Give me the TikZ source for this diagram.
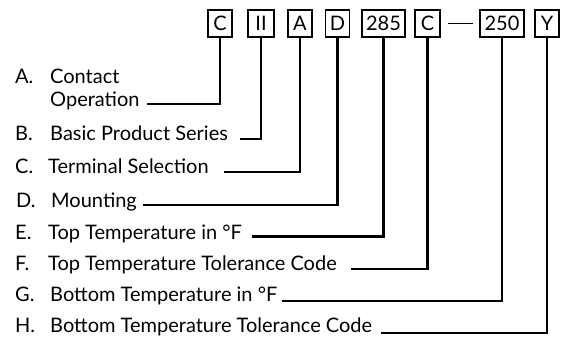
\documentclass[tikz,border=0pt]{standalone}
\usepackage{fontspec}
\setmainfont{Lato}
\begin{document}
\begin{tikzpicture}[x=1pt,y=-1pt,
  codebox/.style={draw, line width=1.1pt, minimum height=27pt, inner sep=0pt, font=\fontsize{20}{22}\selectfont},
  lbl/.style={anchor=base west, inner sep=0pt, font=\fontsize{20}{22}\selectfont},
  lead/.style={line width=2.6pt},
  dashline/.style={line width=1pt}]
\useasboundingbox (0,0) rectangle (562,341);
% code boxes
\node[codebox, minimum width=24pt] (bC) at (220,23.5) {C};
\node[codebox, minimum width=26pt] (bII) at (261,23.5) {II};
\node[codebox, minimum width=24pt] (bA) at (300,23.5) {A};
\node[codebox, minimum width=24pt] (bD) at (337.5,23.5) {D};
\node[codebox, minimum width=43pt] (b285) at (383.5,23.5) {285};
\node[codebox, minimum width=25pt] (bC2) at (427.5,23.5) {C};
\node[codebox, minimum width=44pt] (b250) at (502,23.5) {250};
\node[codebox, minimum width=24pt] (bY) at (547,23.5) {Y};
\draw[dashline] (bC2.east) ++(7,0) coordinate (d1) -- ++(25,0) coordinate (d2);
% labels
\node[lbl] (kA) at (15,83) {A.};
\node[lbl] (tA) at (50,83) {Contact};
\node[lbl] (tA2) at (50,106) {Operation};
\node[lbl] (kB) at (15,140) {B.};
\node[lbl] (tB) at (50,140) {Basic Product Series};
\node[lbl] (kC) at (15,173) {C.};
\node[lbl] (tC) at (48,173) {Terminal Selection};
\node[lbl] (kD) at (16,207) {D.};
\node[lbl] (tD) at (51,207) {Mounting};
\node[lbl] (kE) at (15,239) {E.};
\node[lbl] (tE) at (48,239) {Top Temperature in \textdegree F};
\node[lbl] (kF) at (15,270) {F.};
\node[lbl] (tF) at (48,270) {Top Temperature Tolerance Code};
\node[lbl] (kG) at (15,301) {G.};
\node[lbl] (tG) at (50,301) {Bottom Temperature in \textdegree F};
\node[lbl] (kH) at (15,332) {H.};
\node[lbl] (tH) at (50,332) {Bottom Temperature Tolerance Code};
% leader start points: a small gap after each text, at the leader's height
\coordinate (sA) at ([xshift=7pt]tA2.east |- 0,104);
\coordinate (sB) at ([xshift=12pt]tB.east |- 0,139);
\coordinate (sC) at ([xshift=15pt]tC.east |- 0,172);
\coordinate (sD) at ([xshift=6pt]tD.east |- 0,205);
\coordinate (sE) at ([xshift=10pt]tE.east |- 0,236.5);
\coordinate (sF) at ([xshift=14pt]tF.east |- 0,269);
\coordinate (sG) at ([xshift=5pt]tG.east |- 0,301);
\coordinate (sH) at ([xshift=9pt]tH.east |- 0,333);
\draw[lead] (sA) -| (bC.south);
\draw[lead] (sB) -| (bII.south);
\draw[lead] (sC) -| (bA.south);
\draw[lead] (sD) -| (bD.south);
\draw[lead] (sE) -| (b285.south);
\draw[lead] (sF) -| (bC2.south);
\draw[lead] (sG) -| (b250.south);
\draw[lead] (sH) -| (bY.south);
\end{tikzpicture}
\end{document}
